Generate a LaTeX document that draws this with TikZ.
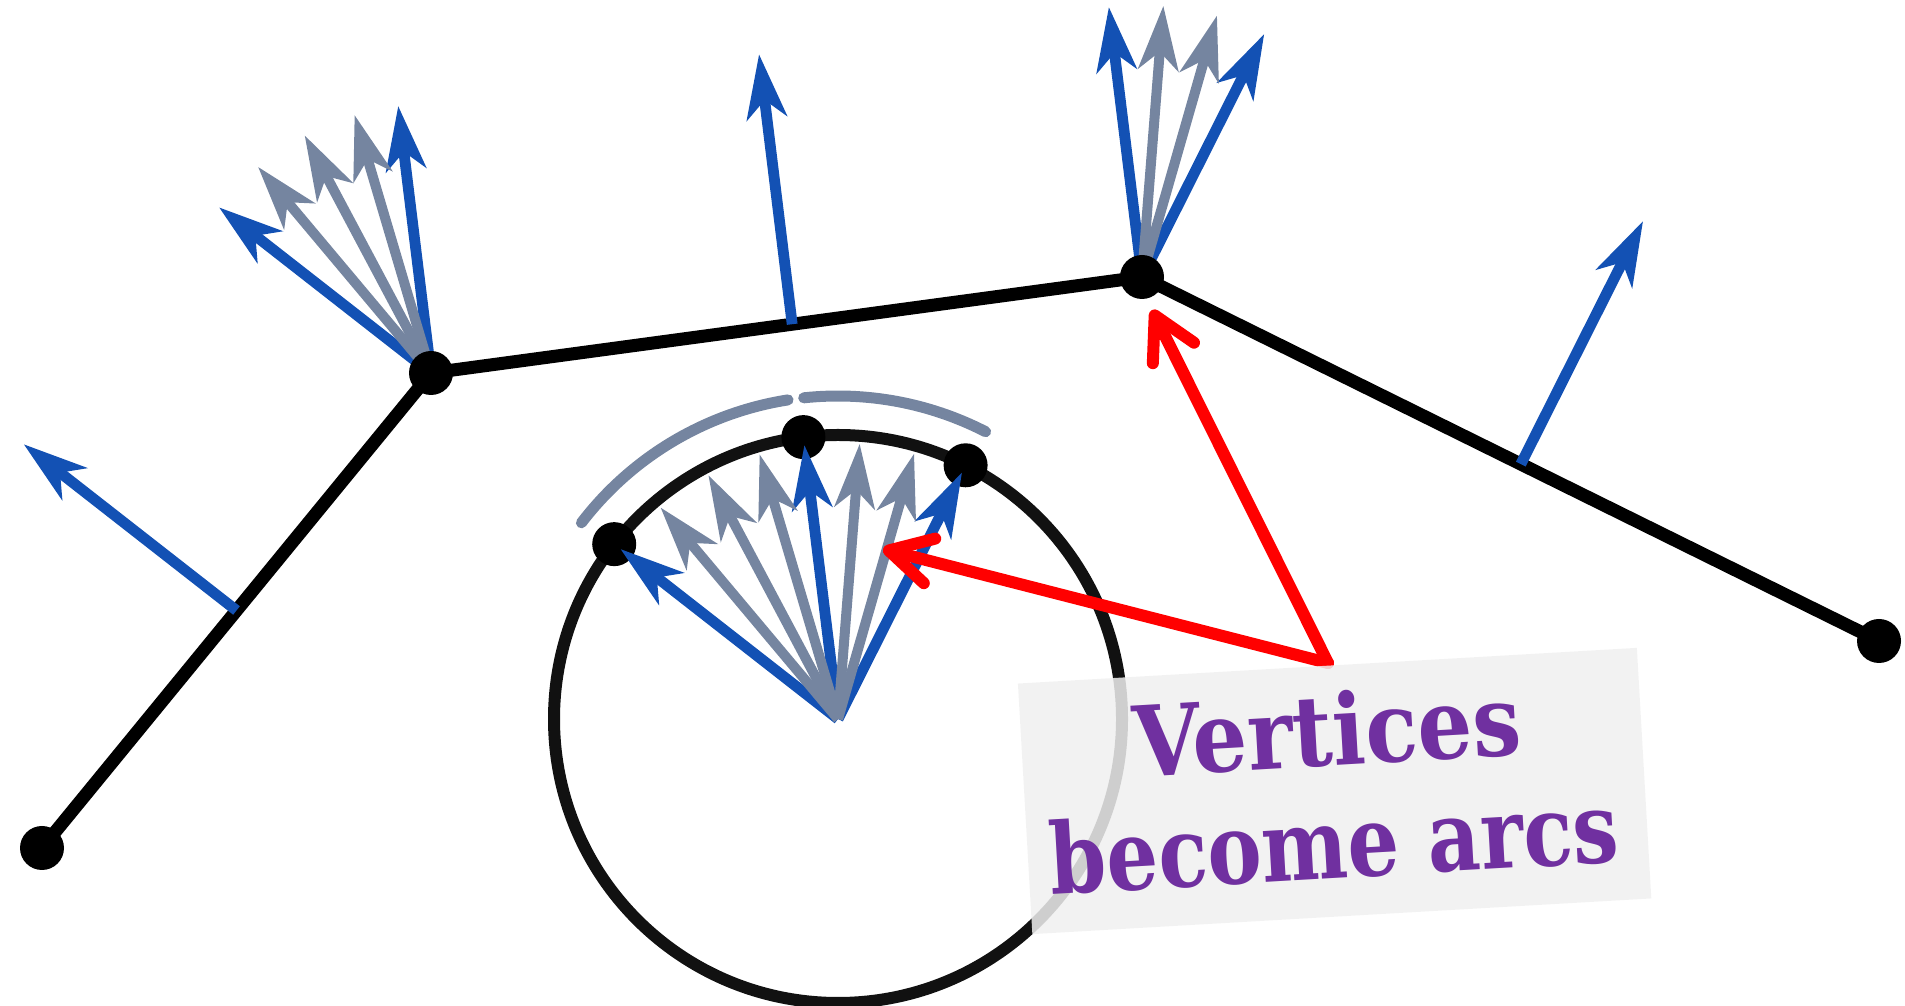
\documentclass[tikz,border=0pt]{standalone}
\usepackage{fontspec}
\setmainfont{DejaVu Serif}
\usetikzlibrary{arrows.meta,calc}
\definecolor{nblue}{HTML}{1351B4}
\definecolor{ngray}{HTML}{7585A0}
\definecolor{nred}{HTML}{FF0000}
\definecolor{npurple}{HTML}{7030A0}
\definecolor{boxgray}{HTML}{F0F0F0}
\definecolor{nblack}{HTML}{111111}
\begin{document}
\begin{tikzpicture}[x=0.5pt,y=0.5pt,
  edgeline/.style={line width=6.5pt, black, line join=round},
  vdot/.style={circle, fill=black, inner sep=0pt, minimum size=22pt},
  bluearrow/.style={line width=5.4pt, nblue, -{Stealth[length=32pt,width=20pt,inset=9pt]}},
  grayarrow/.style={line width=5pt, ngray, -{Stealth[length=32pt,width=20pt,inset=9pt]}},
  grayarc/.style={line width=5.5pt, ngray, line cap=round},
  redarrow/.style={line width=6pt, nred, line cap=round, line join=round, -{Straight Barb[length=21pt,width=23pt,round]}},
  labelbox/.style={rotate=3.3, fill=boxgray, fill opacity=0.85, inner sep=0pt, minimum width=310pt, minimum height=125.5pt},
  labeltext/.style={rotate=3.3, anchor=base, text=npurple, inner sep=0pt, font=\bfseries\fontsize{49pt}{52pt}\selectfont}
]
\useasboundingbox (0,0) rectangle (1905,1006);
% vertices of the polyline
\coordinate (L0) at (42,158);
\coordinate (A) at (431,633);
\coordinate (B) at (1142,729);
\coordinate (R) at (1879,365);
\coordinate (C) at (838,287);
\def\na{142}\def\nb{97}\def\nc{63.3}
% edges
\draw[edgeline] (L0) -- (A) -- (B) -- (R);
% normals at edge midpoints
\coordinate (M1) at ($(L0)!0.5!(A)$);
\coordinate (M2) at ($(A)!0.508!(B)$);
\coordinate (M3) at ($(B)!0.514!(R)$);
\coordinate (M1t) at ($(M1)+(\na:270)$);
\coordinate (M2t) at ($(M2)+(\nb:272)$);
\coordinate (M3t) at ($(M3)+(\nc:272)$);
\draw[bluearrow] (M1) -- (M1t);
\draw[bluearrow] (M2) -- (M2t);
\draw[bluearrow] (M3) -- (M3t);
% fan at A
\foreach \ang/\sty [count=\i] in {\na/bluearrow,\nb/bluearrow,130/grayarrow,118/grayarrow,106.5/grayarrow}{
  \coordinate (Af\i) at ($(A)+(\ang:269)$);
  \draw[\sty] (A) -- (Af\i);
}
% fan at B
\foreach \ang/\sty [count=\i] in {\nb/bluearrow,\nc/bluearrow,85.5/grayarrow,74/grayarrow}{
  \coordinate (Bf\i) at ($(B)+(\ang:272)$);
  \draw[\sty] (B) -- (Bf\i);
}
% vertex dots
\node[vdot] (dL0) at (L0) {};
\node[vdot] (dA) at (A) {};
\node[vdot] (dB) at (B) {};
\node[vdot] (dR) at (R) {};
% Gauss circle
\draw[line width=6pt, nblack] (C) circle[radius=284];
% arcs representing the vertices
\draw[grayarc] ($(C)+(142.6:323)$) arc[start angle=142.6, end angle=98.9, radius=323];
\draw[grayarc] ($(C)+(96.1:323)$) arc[start angle=96.1, end angle=62.8, radius=323];
% dots on the circle
\node[vdot] (c1) at ($(C)+(\na:284)$) {};
\node[vdot] (c2) at ($(C)+(\nb:284)$) {};
\node[vdot] (c3) at ($(C)+(\nc:284)$) {};
% arrows inside the circle
\foreach \ang/\sty [count=\i] in {\na/bluearrow,\nb/bluearrow,\nc/bluearrow,130/grayarrow,118/grayarrow,106.5/grayarrow,85.5/grayarrow,74/grayarrow}{
  \coordinate (Cf\i) at ($(C)+(\ang:276)$);
  \draw[\sty] (C) -- (Cf\i);
}
% red pointers
\coordinate (S) at (1328,343);
\coordinate (T1) at (1152,696);
\coordinate (T2) at (883,457);
\draw[redarrow] (S) -- (T1);
\draw[redarrow] (S) -- (T2);
% label
\node[labelbox] (lbl) at (1334.6,215) {};
\node[labeltext] (t1) at (1329,240) {\scalebox{0.88}[1]{Vertices}};
\node[labeltext] (t2) at (1336,128) {\scalebox{0.83}[1]{become arcs}};
\end{tikzpicture}
\end{document}
